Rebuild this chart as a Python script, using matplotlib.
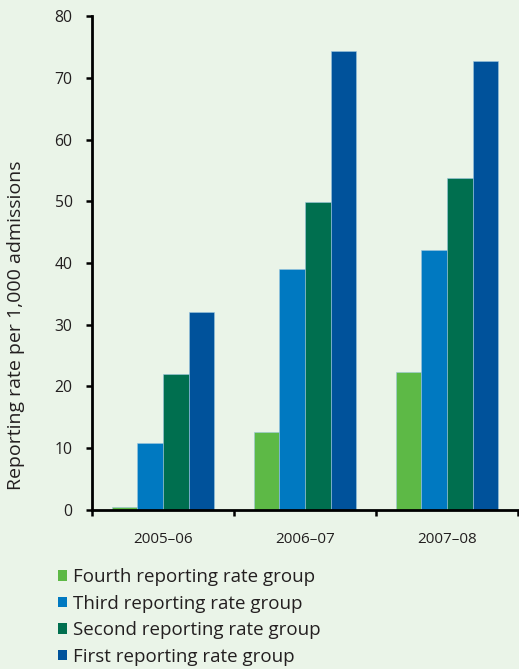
import matplotlib
matplotlib.use("Agg")
import matplotlib.pyplot as plt
import numpy as np
from matplotlib.patches import Patch

categories = ["2005–06", "2006–07", "2007–08"]
series_names = ["Fourth reporting rate group", "Third reporting rate group",
                "Second reporting rate group", "First reporting rate group"]
fourth = [0.5, 12.6, 22.3]
third = [10.9, 39.0, 42.1]
second = [22.0, 49.9, 53.7]
first = [32.1, 74.3, 72.8]
colors = ["#5DB946", "#0079C1", "#006F4F", "#00529B"]
yticks = [0, 10, 20, 30, 40, 50, 60, 70, 80]

bg = "#EAF4E8"
txt = "#231F20"
plt.rcParams['font.family'] = ['Open Sans', 'DejaVu Sans']

fig = plt.figure(figsize=(5.19, 6.69), dpi=100, facecolor=bg)
ax = fig.add_axes([0.1773, 0.2377, 0.8207, 0.7383], facecolor=bg)

x = np.arange(len(categories))
w = 0.181
data = [fourth, third, second, first]
for i, (vals, c) in enumerate(zip(data, colors)):
    ax.bar(x + (i - 1.5) * w, vals, width=w, color=c, edgecolor="#9CC6DE",
           linewidth=0.4, zorder=2)

ax.set_xlim(-0.5, 2.5)
ax.set_ylim(0, 80)
ax.set_yticks(yticks)
ax.set_yticklabels([str(t) for t in yticks], fontsize=11.3, color=txt)
ax.set_xticks([-0.5, 0.5, 1.5, 2.5])
ax.set_xticklabels([])
ax.set_xticks(x, minor=True)
ax.set_xticklabels(categories, minor=True, fontsize=11, color=txt)
ax.tick_params(axis='x', which='minor', length=0, pad=16)
ax.tick_params(axis='x', which='major', length=4, width=1.8, direction='out')
ax.tick_params(axis='y', length=4, width=1.8, direction='out', pad=10)
for s in ["top", "right"]:
    ax.spines[s].set_visible(False)
for s in ["left", "bottom"]:
    ax.spines[s].set_linewidth(2)
    ax.spines[s].set_color("black")

fig.text(16 / 519, 1 - 325 / 669, "Reporting rate per 1,000 admissions",
         rotation=90, ha="center", va="center", fontsize=14, color=txt)

handles = [Patch(facecolor=c, edgecolor='none') for c in colors]
fig.legend(handles, series_names, loc="upper left", bbox_to_anchor=(0.112, 0.151),
           frameon=False, fontsize=13.5, labelcolor=txt, handlelength=0.48,
           handleheight=0.48, handletextpad=0.3, labelspacing=0.46,
           borderaxespad=0, borderpad=0)

fig.savefig("out.png", dpi=100, facecolor=bg)
